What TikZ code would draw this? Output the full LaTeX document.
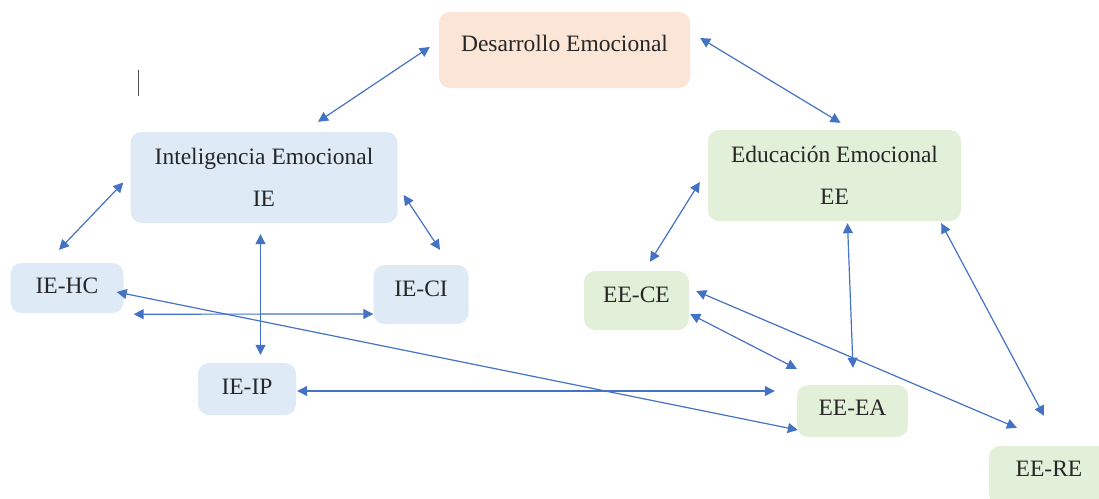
\documentclass[tikz,border=0pt]{standalone}
\usepackage{fontspec}
\setmainfont{Liberation Serif}
\usetikzlibrary{arrows.meta,calc}

\definecolor{peach}{HTML}{FBE5D6}
\definecolor{paleblue}{HTML}{DEEBF7}
\definecolor{palegreen}{HTML}{E2F0D9}
\definecolor{linkblue}{HTML}{4472C4}

\begin{document}
\begin{tikzpicture}[x=1pt,y=-1pt]
   \tikzstyle{every node}=[rectangle, rounded corners=11pt, inner sep=0pt, text=black!85, align=center, font=\fontsize{23.5}{42}\selectfont]
   \tikzstyle{devbox}=[fill=peach]
   \tikzstyle{iebox}=[fill=paleblue]
   \tikzstyle{eebox}=[fill=palegreen]
   \tikzstyle{link}=[draw=linkblue, line width=1.2pt, >={Triangle[length=10pt,width=10pt]}, <->]

\useasboundingbox (0,0) rectangle (1099,498);

\node[devbox, minimum width=251pt, minimum height=76pt, text depth=14pt] (des) at (564.5,50) {Desarrollo Emocional};

\node[iebox, minimum width=267pt, minimum height=91pt] (ie) at (264,177.5) {Inteligencia Emocional\\IE};
\node[iebox, minimum width=113pt, minimum height=50pt, text depth=5pt] (hc) at (67,288) {IE-HC};
\node[iebox, minimum width=95pt, minimum height=59pt, text depth=12pt] (ci) at (421,294.5) {IE-CI};
\node[iebox, minimum width=98pt, minimum height=52pt, text depth=5pt] (ip) at (247,389) {IE-IP};

\node[eebox, minimum width=253pt, minimum height=91pt] (ee) at (834.5,175.5) {Educación Emocional\\EE};
\node[eebox, minimum width=105pt, minimum height=59pt, text depth=12pt] (ce) at (636.5,300.5) {EE-CE};
\node[eebox, minimum width=111pt, minimum height=52pt, text depth=6pt] (ea) at (852.5,411) {EE-EA};
\node[eebox, minimum width=120pt, minimum height=59pt, text depth=13pt] (re) at (1049,475.5) {EE-RE};

% cursor mark
\draw[black!70, line width=1pt] (138.5,70) -- (138.5,95.5);

\draw[link] ($(des.west)+(-9,-3)$) -- ($(ie.north)+(54,-10)$);
\draw[link] ($(des.east)+(10,-12)$) -- ($(ee.north)+(6,-7)$);

\draw[link] ($(ie.west)+(-7,5)$) -- ($(hc.north)+(-8,-13)$);
\draw[link] ($(ie.east)+(6,17.5)$) -- ($(ci.north)+(19,-15)$);
\draw[link] ($(ie.south)+(-3.5,11)$) -- ($(ip.north)+(13.5,-8)$);
\draw[link] ($(hc.south east)+(10,1)$) -- ($(ci.west)+(0,19.5)$);
\draw[link] ($(hc.east)+(-7,4)$) -- ($(ea.west)+(1,19)$);
\draw[link] ($(ip.east)+(1,2)$) -- ($(ea.west)+(-22,-20)$);

\draw[link] ($(ee.west)+(-8,6.5)$) -- ($(ce.north)+(13.5,-9)$);
\draw[link] ($(ee.south)+(13,2)$) -- ($(ea.north)+(0.5,-17)$);
\draw[link] ($(ee.south east)+(-20,2)$) -- ($(re.north)+(-5,-30)$);
\draw[link] ($(ce.east)+(1,13.5)$) -- ($(ea.north west)+(0,-16)$);
\draw[link] ($(ce.east)+(7,-9.5)$) -- ($(re.north west)+(28,-18)$);

\end{tikzpicture}
\end{document}
